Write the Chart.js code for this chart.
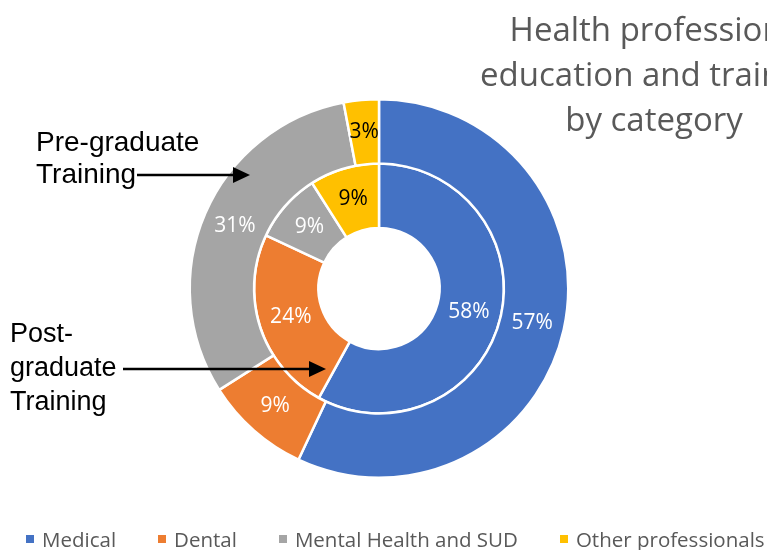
<!DOCTYPE html>
<html>
<head>
<meta charset="utf-8">
<script src="https://cdn.jsdelivr.net/npm/chart.js"></script>
<style>
    html, body { margin: 0; padding: 0; background: #fff; }
    body { width: 767px; height: 550px; overflow: hidden; position: relative; }
    #wrap { position: absolute; left: 0; top: 0; width: 767px; height: 550px; }
    .title {
        position: absolute; left: 404px; top: 6px; width: 500px;
        text-align: center; white-space: nowrap;
        font: 33px/45px "Open Sans", sans-serif; color: #595959;
    }
    .note {
        position: absolute; white-space: nowrap;
        font-family: "Liberation Sans", Arial, sans-serif; color: #000;
    }
    #legend {
        position: absolute; left: 26px; top: 525px; white-space: nowrap;
        font: 20.5px "Open Sans", sans-serif; color: #595959;
        display: flex; align-items: center;
    }
    #legend .item { display: flex; align-items: center; margin-right: 42px; }
    #legend .box { width: 8px; height: 8px; margin-right: 8px; }
</style>
</head>
<body>
<div id="wrap"><canvas id="donutChart" width="767" height="550"></canvas></div>

<div class="title">Health professions<br>education and training<br>by category</div>
<div class="note" style="left:36px; top:126px; font-size:28px; line-height:32px;">Pre-graduate<br>Training</div>
<div class="note" style="left:10px; top:316px; font-size:27px; line-height:34px;">Post-<br>graduate<br>Training</div>
<div id="legend"></div>

<script>
// categories + ring values (percent)
const categories = ['Medical', 'Dental', 'Mental Health and SUD', 'Other professionals'];
const preGraduate = [57, 9, 31, 3];    // outer ring
const postGraduate = [58, 24, 9, 9];   // inner ring
const colors = ['#4472C4', '#ED7D31', '#A5A5A5', '#FFC000'];
const labelColors = ['#ffffff', '#ffffff', '#ffffff', '#000000'];

// percent labels in the middle of every slice
const sliceLabels = {
    id: 'sliceLabels',
    afterDatasetsDraw(chart) {
        const ctx = chart.ctx;
        ctx.save();
        ctx.font = '21px "Open Sans", sans-serif';
        ctx.textAlign = 'center';
        ctx.textBaseline = 'middle';
        chart.data.datasets.forEach((ds, i) => {
            chart.getDatasetMeta(i).data.forEach((arc, j) => {
                const p = arc.getCenterPoint();
                ctx.fillStyle = labelColors[j];
                ctx.fillText(ds.data[j] + '%', p.x, p.y);
            });
        });
        ctx.restore();
    }
};

// the two callout arrows
function drawArrow(ctx, x1, x2, y) {
    ctx.beginPath();
    ctx.moveTo(x1, y);
    ctx.lineTo(x2 - 14, y);
    ctx.stroke();
    ctx.beginPath();
    ctx.moveTo(x2, y);
    ctx.lineTo(x2 - 17, y - 8);
    ctx.lineTo(x2 - 17, y + 8);
    ctx.closePath();
    ctx.fill();
}

const callouts = {
    id: 'callouts',
    afterDraw(chart) {
        const ctx = chart.ctx;
        ctx.save();
        ctx.strokeStyle = '#000';
        ctx.fillStyle = '#000';
        ctx.lineWidth = 2.5;
        drawArrow(ctx, 137, 250, 175);
        drawArrow(ctx, 123, 326, 369);
        ctx.restore();
    }
};

function buildLegend() {
    const legend = document.getElementById('legend');
    categories.forEach((name, i) => {
        const item = document.createElement('div');
        item.className = 'item';
        item.innerHTML = `<span class="box" style="background:${colors[i]}"></span><span>${name}</span>`;
        legend.appendChild(item);
    });
}

function renderChart() {
    const ctx = document.getElementById('donutChart').getContext('2d');
    new Chart(ctx, {
        type: 'doughnut',
        data: {
            labels: categories,
            datasets: [
                { label: 'Pre-graduate Training', data: preGraduate, backgroundColor: colors, borderColor: '#fff', borderWidth: 2.5 },
                { label: 'Post-graduate Training', data: postGraduate, backgroundColor: colors, borderColor: '#fff', borderWidth: 2.5 }
            ]
        },
        options: {
            responsive: false,
            animation: false,
            cutout: '32%',
            layout: { padding: { top: 98, bottom: 71, left: 0, right: 9 } },
            plugins: {
                legend: { display: false },
                title: { display: false },
                tooltip: { enabled: false }
            }
        },
        plugins: [sliceLabels, callouts]
    });
}

buildLegend();
renderChart();
</script>
</body>
</html>
